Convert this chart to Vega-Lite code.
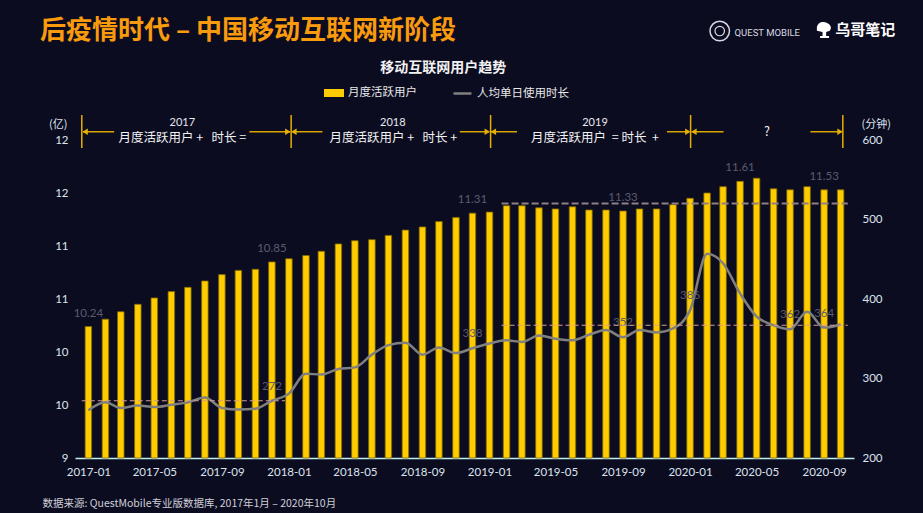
{
  "$schema": "https://vega.github.io/schema/vega-lite/v6.json",
  "width": 779,
  "height": 318,
  "autosize": {"type": "none"},
  "padding": {"left": 75, "top": 140, "right": 69, "bottom": 55},
  "background": "#0c0c21",
  "title": {
    "text": "后疫情时代 – 中国移动互联网新阶段",
    "anchor": "start",
    "frame": "group",
    "dx": -35,
    "dy": 26,
    "offset": 0,
    "font": "Noto Sans CJK SC",
    "fontSize": 26,
    "fontWeight": "bold",
    "color": "#f99b0c"
  },
  "config": {
    "view": {"stroke": null},
    "axis": {
      "grid": false,
      "ticks": false,
      "domain": false,
      "labelFont": "Lato",
      "labelFontSize": 11.5,
      "labelColor": "#dce4ee",
      "titleFont": "Noto Sans CJK SC",
      "titleFontSize": 11,
      "titleFontWeight": "normal",
      "titleColor": "#dce4ee"
    },
    "legend": {
      "orient": "none",
      "direction": "horizontal",
      "labelFont": "Noto Sans CJK SC",
      "labelFontSize": 11.5,
      "labelColor": "#e8e8e8",
      "labelOffset": 4
    }
  },
  "datasets": {
    "monthly": [
      {"month": "2017-01", "users": 10.24, "minutes": 260},
      {"month": "2017-02", "users": 10.31, "minutes": 270},
      {"month": "2017-03", "users": 10.38, "minutes": 263},
      {"month": "2017-04", "users": 10.45, "minutes": 266},
      {"month": "2017-05", "users": 10.51, "minutes": 264},
      {"month": "2017-06", "users": 10.57, "minutes": 267},
      {"month": "2017-07", "users": 10.61, "minutes": 270},
      {"month": "2017-08", "users": 10.67, "minutes": 276},
      {"month": "2017-09", "users": 10.73, "minutes": 263},
      {"month": "2017-10", "users": 10.77, "minutes": 261},
      {"month": "2017-11", "users": 10.78, "minutes": 262},
      {"month": "2017-12", "users": 10.85, "minutes": 272},
      {"month": "2018-01", "users": 10.88, "minutes": 281},
      {"month": "2018-02", "users": 10.91, "minutes": 306},
      {"month": "2018-03", "users": 10.95, "minutes": 305},
      {"month": "2018-04", "users": 11.02, "minutes": 312},
      {"month": "2018-05", "users": 11.05, "minutes": 314},
      {"month": "2018-06", "users": 11.06, "minutes": 330},
      {"month": "2018-07", "users": 11.10, "minutes": 342},
      {"month": "2018-08", "users": 11.15, "minutes": 345},
      {"month": "2018-09", "users": 11.18, "minutes": 330},
      {"month": "2018-10", "users": 11.23, "minutes": 339},
      {"month": "2018-11", "users": 11.27, "minutes": 332},
      {"month": "2018-12", "users": 11.31, "minutes": 338},
      {"month": "2019-01", "users": 11.32, "minutes": 344},
      {"month": "2019-02", "users": 11.38, "minutes": 348},
      {"month": "2019-03", "users": 11.38, "minutes": 346},
      {"month": "2019-04", "users": 11.36, "minutes": 354},
      {"month": "2019-05", "users": 11.35, "minutes": 350},
      {"month": "2019-06", "users": 11.37, "minutes": 348},
      {"month": "2019-07", "users": 11.34, "minutes": 355},
      {"month": "2019-08", "users": 11.34, "minutes": 361},
      {"month": "2019-09", "users": 11.33, "minutes": 352},
      {"month": "2019-10", "users": 11.35, "minutes": 361},
      {"month": "2019-11", "users": 11.35, "minutes": 358},
      {"month": "2019-12", "users": 11.39, "minutes": 363},
      {"month": "2020-01", "users": 11.45, "minutes": 386},
      {"month": "2020-02", "users": 11.50, "minutes": 457},
      {"month": "2020-03", "users": 11.56, "minutes": 445},
      {"month": "2020-04", "users": 11.61, "minutes": 407},
      {"month": "2020-05", "users": 11.64, "minutes": 378},
      {"month": "2020-06", "users": 11.54, "minutes": 367},
      {"month": "2020-07", "users": 11.53, "minutes": 362},
      {"month": "2020-08", "users": 11.56, "minutes": 384},
      {"month": "2020-09", "users": 11.53, "minutes": 364},
      {"month": "2020-10", "users": 11.53, "minutes": 368}
    ],
    "refs": [
      {"grp": "left", "d": "2019-01-23", "d2": "2020-10-14", "v": 11.40},
      {"grp": "right", "d": "2016-12-20", "d2": "2017-12-25", "v": 272},
      {"grp": "right", "d": "2019-01-23", "d2": "2020-10-14", "v": 367}
    ],
    "notes": [
      {"kind": "vline", "d": "2016-12-20", "v": 11.925, "v2": 12.236},
      {"kind": "vline", "d": "2018-01-05", "v": 11.925, "v2": 12.236},
      {"kind": "vline", "d": "2019-01-03", "v": 11.925, "v2": 12.236},
      {"kind": "vline", "d": "2020-01-02", "v": 11.925, "v2": 12.236},
      {"kind": "vline", "d": "2020-10-05", "v": 11.925, "v2": 12.236},
      {"kind": "seg", "d": "2016-12-22", "d2": "2017-02-17", "v": 12.078},
      {"kind": "seg", "d": "2017-10-21", "d2": "2018-01-03", "v": 12.078},
      {"kind": "seg", "d": "2018-01-07", "d2": "2018-03-03", "v": 12.078},
      {"kind": "seg", "d": "2018-11-08", "d2": "2018-12-30", "v": 12.078},
      {"kind": "seg", "d": "2019-01-04", "d2": "2019-02-20", "v": 12.078},
      {"kind": "seg", "d": "2019-11-20", "d2": "2019-12-30", "v": 12.078},
      {"kind": "seg", "d": "2020-01-04", "d2": "2020-03-02", "v": 12.078},
      {"kind": "seg", "d": "2020-08-07", "d2": "2020-10-02", "v": 12.078},
      {"kind": "tipL", "d": "2016-12-26", "v": 12.078},
      {"kind": "tipL", "d": "2018-01-10", "v": 12.078},
      {"kind": "tipL", "d": "2019-01-08", "v": 12.078},
      {"kind": "tipL", "d": "2020-01-08", "v": 12.078},
      {"kind": "tipR", "d": "2017-12-30", "v": 12.078},
      {"kind": "tipR", "d": "2018-12-28", "v": 12.078},
      {"kind": "tipR", "d": "2019-12-28", "v": 12.078},
      {"kind": "tipR", "d": "2020-09-30", "v": 12.078},
      {"kind": "year", "d": "2017-06-21", "v": 12.165, "text": "2017"},
      {"kind": "year", "d": "2018-07-09", "v": 12.165, "text": "2018"},
      {"kind": "year", "d": "2019-07-12", "v": 12.165, "text": "2019"},
      {"kind": "desc", "d": "2017-06-21", "v": 12.022, "text": "月度活跃用户 +\u00a0\u00a0\u00a0时长 ="},
      {"kind": "desc", "d": "2018-07-10", "v": 12.022, "text": "月度活跃用户 +\u00a0\u00a0\u00a0时长 +"},
      {"kind": "desc", "d": "2019-07-12", "v": 12.022, "text": "月度活跃用户 \u00a0= 时长 \u00a0+"},
      {"kind": "mark", "d": "2020-05-20", "v": 12.078, "text": "?"},
      {"kind": "heading", "d": "2018-10-09", "v": 12.679, "text": "移动互联网用户趋势"},
      {"kind": "brand", "d": "2020-03-22", "v": 13.009, "text": "QUEST MOBILE"},
      {"kind": "brand2", "d": "2020-09-21", "v": 13.038, "text": "乌哥笔记"},
      {"kind": "icon", "d": "2020-02-24", "v": 13.028},
      {"kind": "icon2", "d": "2020-02-24", "v": 13.028},
      {"kind": "bird", "d": "2020-09-01", "v": 13.038}
    ]
  },
  "layer": [
    {
      "layer": [
        {
          "data": {"name": "monthly", "format": {"parse": {"month": "date"}}},
          "mark": {"type": "bar", "width": 6.5, "stroke": "#806800", "strokeWidth": 0.8},
          "encoding": {
            "x": {
              "field": "month",
              "type": "temporal",
              "scale": {
                "type": "utc",
                "domain": [
                  {"year": 2016, "month": 12, "date": 16, "hours": 18, "utc": true},
                  {"year": 2020, "month": 10, "date": 16, "hours": 6, "utc": true}
                ]
              },
              "axis": {
                "domain": true,
                "domainColor": "#bfeeee",
                "domainWidth": 1.5,
                "tickCount": {"interval": "month", "step": 4},
                "labelExpr": "utcFormat(datum.value, '%Y-%m')",
                "labelFlush": false,
                "labelBound": false,
                "labelOverlap": false,
                "labelPadding": 8,
                "title": "数据来源: QuestMobile专业版数据库, 2017年1月 – 2020年10月",
                "titleX": -33,
                "titleY": 45,
                "titleAlign": "left",
                "titleBaseline": "middle",
                "titleFontSize": 10.5,
                "titleColor": "#cfcfd8"
              }
            },
            "y": {
              "field": "users",
              "type": "quantitative",
              "scale": {"domain": [9, 12], "zero": false, "nice": false},
              "axis": {
                "values": [9, 9.5, 10, 10.5, 11, 11.5, 12],
                "format": ".0f",
                "labelPadding": 7,
                "title": "(亿)",
                "titleAngle": 0,
                "titleX": -8,
                "titleY": -16,
                "titleAlign": "right",
                "titleBaseline": "middle"
              }
            },
            "y2": {"datum": 9},
            "fill": {
              "datum": "月度活跃用户",
              "scale": {"range": ["#ffcc00"]},
              "legend": {
                "legendX": 249,
                "legendY": -57,
                "title": null,
                "symbolType": "M-1,-0.4H1V0.4H-1Z",
                "symbolSize": 400,
                "symbolStrokeWidth": 0,
                "symbolOpacity": 1
              }
            }
          }
        },
        {
          "data": {"name": "monthly", "format": {"parse": {"month": "date"}}},
          "transform": [
            {"filter": "indexof(['2017-01','2017-12','2018-12','2019-09','2020-04','2020-09'], utcFormat(datum.month, '%Y-%m')) >= 0"}
          ],
          "mark": {"type": "text", "font": "Lato", "fontSize": 11.5, "color": "#5b5b6b", "dy": -13, "baseline": "middle"},
          "encoding": {
            "x": {"field": "month", "type": "temporal"},
            "y": {"field": "users", "type": "quantitative", "scale": {"domain": [9, 12], "zero": false, "nice": false}},
            "text": {"field": "users", "type": "quantitative", "format": ".2f"}
          }
        },
        {
          "data": {"name": "refs"},
          "transform": [{"filter": "datum.grp === 'left'"}],
          "mark": {"type": "rule", "color": "#8f7f87", "strokeWidth": 2, "strokeDash": [7, 3]},
          "encoding": {
            "x": {"field": "d", "type": "temporal"},
            "x2": {"field": "d2"},
            "y": {"field": "v", "type": "quantitative", "scale": {"domain": [9, 12], "zero": false, "nice": false}}
          }
        },
        {
          "data": {"name": "notes"},
          "transform": [{"filter": "datum.kind === 'vline'"}],
          "mark": {"type": "rule", "color": "#e6b000", "strokeWidth": 1.5},
          "encoding": {
            "x": {"field": "d", "type": "temporal"},
            "y": {"field": "v", "type": "quantitative", "scale": {"domain": [9, 12], "zero": false, "nice": false}},
            "y2": {"field": "v2"}
          }
        },
        {
          "data": {"name": "notes"},
          "transform": [{"filter": "datum.kind === 'seg'"}],
          "mark": {"type": "rule", "color": "#d9a600", "strokeWidth": 1.5},
          "encoding": {
            "x": {"field": "d", "type": "temporal"},
            "x2": {"field": "d2"},
            "y": {"field": "v", "type": "quantitative", "scale": {"domain": [9, 12], "zero": false, "nice": false}}
          }
        },
        {
          "data": {"name": "notes"},
          "transform": [{"filter": "datum.kind === 'tipL'"}],
          "mark": {"type": "point", "shape": "triangle-left", "filled": true, "size": 40, "color": "#e6b000", "opacity": 1},
          "encoding": {
            "x": {"field": "d", "type": "temporal"},
            "y": {"field": "v", "type": "quantitative", "scale": {"domain": [9, 12], "zero": false, "nice": false}}
          }
        },
        {
          "data": {"name": "notes"},
          "transform": [{"filter": "datum.kind === 'tipR'"}],
          "mark": {"type": "point", "shape": "triangle-right", "filled": true, "size": 40, "color": "#e6b000", "opacity": 1},
          "encoding": {
            "x": {"field": "d", "type": "temporal"},
            "y": {"field": "v", "type": "quantitative", "scale": {"domain": [9, 12], "zero": false, "nice": false}}
          }
        },
        {
          "data": {"name": "notes"},
          "transform": [{"filter": "datum.kind === 'year'"}],
          "mark": {"type": "text", "font": "Lato", "fontSize": 11, "color": "#e8e8ee", "baseline": "middle"},
          "encoding": {
            "x": {"field": "d", "type": "temporal"},
            "y": {"field": "v", "type": "quantitative", "scale": {"domain": [9, 12], "zero": false, "nice": false}},
            "text": {"field": "text"}
          }
        },
        {
          "data": {"name": "notes"},
          "transform": [{"filter": "datum.kind === 'desc' || datum.kind === 'mark'"}],
          "mark": {"type": "text", "font": "Noto Sans CJK SC", "fontSize": 12.5, "color": "#f2f2f2", "baseline": "middle"},
          "encoding": {
            "x": {"field": "d", "type": "temporal"},
            "y": {"field": "v", "type": "quantitative", "scale": {"domain": [9, 12], "zero": false, "nice": false}},
            "text": {"field": "text"}
          }
        },
        {
          "data": {"name": "notes"},
          "transform": [{"filter": "datum.kind === 'heading'"}],
          "mark": {"type": "text", "font": "Noto Sans CJK SC", "fontSize": 14, "fontWeight": "bold", "color": "#f2f2f2", "baseline": "middle"},
          "encoding": {
            "x": {"field": "d", "type": "temporal"},
            "y": {"field": "v", "type": "quantitative", "scale": {"domain": [9, 12], "zero": false, "nice": false}},
            "text": {"field": "text"}
          }
        },
        {
          "data": {"name": "notes"},
          "transform": [{"filter": "datum.kind === 'brand'"}],
          "mark": {"type": "text", "font": "Roboto", "fontSize": 9.5, "color": "#d8d8e0", "align": "left", "baseline": "middle"},
          "encoding": {
            "x": {"field": "d", "type": "temporal"},
            "y": {"field": "v", "type": "quantitative", "scale": {"domain": [9, 12], "zero": false, "nice": false}},
            "text": {"field": "text"}
          }
        },
        {
          "data": {"name": "notes"},
          "transform": [{"filter": "datum.kind === 'brand2'"}],
          "mark": {"type": "text", "font": "Noto Sans CJK SC", "fontSize": 15, "fontWeight": "bold", "color": "#ffffff", "align": "left", "baseline": "middle"},
          "encoding": {
            "x": {"field": "d", "type": "temporal"},
            "y": {"field": "v", "type": "quantitative", "scale": {"domain": [9, 12], "zero": false, "nice": false}},
            "text": {"field": "text"}
          }
        },
        {
          "data": {"name": "notes"},
          "transform": [{"filter": "datum.kind === 'icon'"}],
          "mark": {"type": "point", "shape": "circle", "filled": false, "size": 380, "stroke": "#d8d8e0", "strokeWidth": 1.5, "opacity": 1},
          "encoding": {
            "x": {"field": "d", "type": "temporal"},
            "y": {"field": "v", "type": "quantitative", "scale": {"domain": [9, 12], "zero": false, "nice": false}}
          }
        },
        {
          "data": {"name": "notes"},
          "transform": [{"filter": "datum.kind === 'icon2'"}],
          "mark": {"type": "point", "shape": "circle", "filled": false, "size": 90, "stroke": "#d8d8e0", "strokeWidth": 1.2, "opacity": 1},
          "encoding": {
            "x": {"field": "d", "type": "temporal"},
            "y": {"field": "v", "type": "quantitative", "scale": {"domain": [9, 12], "zero": false, "nice": false}}
          }
        },
        {
          "data": {"name": "notes"},
          "transform": [{"filter": "datum.kind === 'bird'"}],
          "mark": {"type": "point", "shape": "M-0.9,-0.2C-0.9,-0.9 -0.2,-1.1 0.3,-0.9C0.8,-0.7 1,-0.3 0.7,0.1L0.25,0.25L0.25,0.75L0.6,0.75L0.6,1L-0.5,1L-0.5,0.75L-0.2,0.75L-0.2,0.25L-0.9,0.1Z", "filled": true, "size": 260, "color": "#ffffff", "opacity": 1},
          "encoding": {
            "x": {"field": "d", "type": "temporal"},
            "y": {"field": "v", "type": "quantitative", "scale": {"domain": [9, 12], "zero": false, "nice": false}}
          }
        }
      ]
    },
    {
      "layer": [
        {
          "data": {"name": "monthly", "format": {"parse": {"month": "date"}}},
          "mark": {"type": "line", "interpolate": "monotone", "strokeWidth": 2.5},
          "encoding": {
            "x": {"field": "month", "type": "temporal"},
            "y": {
              "field": "minutes",
              "type": "quantitative",
              "scale": {"domain": [200, 600], "zero": false, "nice": false},
              "axis": {
                "orient": "right",
                "values": [200, 300, 400, 500, 600],
                "labelPadding": 8,
                "title": "(分钟)",
                "titleAngle": 0,
                "titleX": 7,
                "titleY": -16,
                "titleAlign": "left",
                "titleBaseline": "middle"
              }
            },
            "stroke": {
              "datum": "人均单日使用时长",
              "scale": {"range": ["#808080"]},
              "legend": {
                "legendX": 377,
                "legendY": -57,
                "title": null,
                "symbolType": "stroke",
                "symbolSize": 324,
                "symbolStrokeWidth": 2.5,
                "symbolOpacity": 1
              }
            }
          }
        },
        {
          "data": {"name": "monthly", "format": {"parse": {"month": "date"}}},
          "transform": [
            {"filter": "indexof(['2017-12','2018-12','2019-09','2020-01','2020-07','2020-09'], utcFormat(datum.month, '%Y-%m')) >= 0"}
          ],
          "mark": {"type": "text", "font": "Lato", "fontSize": 11.5, "color": "#5b5b6b", "dy": -14, "baseline": "middle"},
          "encoding": {
            "x": {"field": "month", "type": "temporal"},
            "y": {"field": "minutes", "type": "quantitative", "scale": {"domain": [200, 600], "zero": false, "nice": false}},
            "text": {"field": "minutes", "type": "quantitative", "format": ".0f"}
          }
        },
        {
          "data": {"name": "refs"},
          "transform": [{"filter": "datum.grp === 'right'"}],
          "mark": {"type": "rule", "color": "#d39c9c", "strokeWidth": 1.2, "strokeDash": [5, 3]},
          "encoding": {
            "x": {"field": "d", "type": "temporal"},
            "x2": {"field": "d2"},
            "y": {"field": "v", "type": "quantitative", "scale": {"domain": [200, 600], "zero": false, "nice": false}}
          }
        }
      ]
    }
  ],
  "resolve": {"scale": {"y": "independent"}}
}
